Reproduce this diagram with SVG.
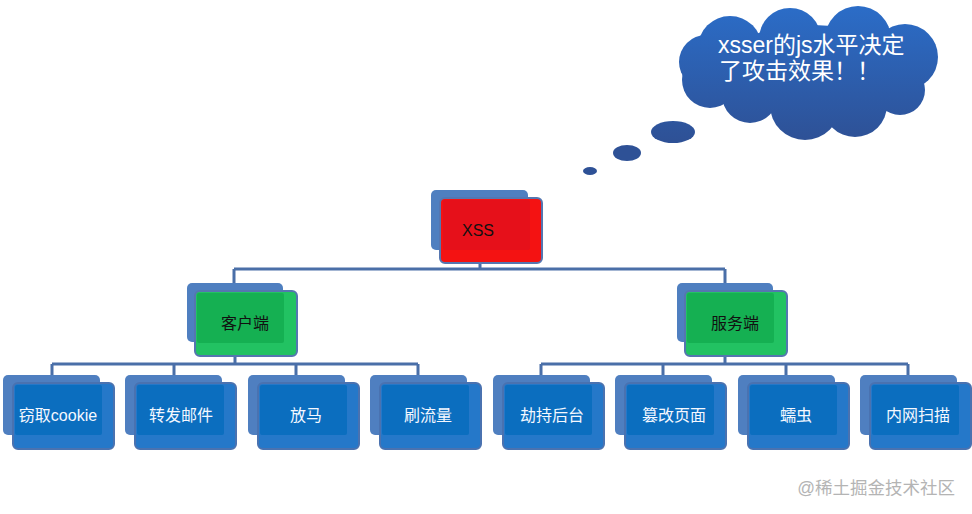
<svg xmlns="http://www.w3.org/2000/svg" width="972" height="514" viewBox="0 0 972 514">
<defs>
<linearGradient id="cloudg" gradientUnits="userSpaceOnUse" x1="0" y1="5" x2="0" y2="140">
<stop offset="0" stop-color="#2b6dc8"/>
<stop offset="1" stop-color="#2e5196"/>
</linearGradient>
<style>
.back{fill:#4f7fc0;}
.frontR{fill:#f41212;stroke:#5576b0;stroke-width:2;}
.innerR{fill:#e6101a;}
.frontG{fill:#22c262;stroke:#5576b0;stroke-width:2;}
.innerG{fill:#15b052;}
.frontB{fill:#2578c9;stroke:#4a72b0;stroke-width:2;}
.innerB{fill:#0b6ebf;}
.lbl{font-family:"Liberation Sans","Noto Sans CJK SC",sans-serif;font-size:16px;text-anchor:middle;}
.dark{fill:#111;}
.light{fill:#f4f8ff;}
.conn{fill:none;stroke:#4a6fa8;stroke-width:3;}
.cloud{fill:url(#cloudg);}
</style>
</defs>
<rect width="972" height="514" fill="#ffffff"/>

<g id="connectors">
<path class="conn" d="M480 262V269M234 269H725M234 269V284M725 269V284"/>
<path class="conn" d="M235 355V364M52 364H418M52 364V376M174 364V376M296 364V376M418 364V376"/>
<path class="conn" d="M725 355V364M541 364H908M541 364V376M663 364V376M786 364V376M908 364V376"/>
</g>

<g id="thought">
<ellipse class="cloud" cx="590" cy="171" rx="7" ry="4"/>
<ellipse class="cloud" cx="627" cy="153" rx="14" ry="8"/>
<ellipse class="cloud" cx="673" cy="132" rx="22" ry="11"/>
<circle class="cloud" cx="730" cy="48" r="32"/>
<circle class="cloud" cx="790" cy="39" r="31"/>
<circle class="cloud" cx="858" cy="39" r="33"/>
<circle class="cloud" cx="905" cy="57" r="33"/>
<circle class="cloud" cx="900" cy="90" r="25"/>
<circle class="cloud" cx="855" cy="105" r="32"/>
<circle class="cloud" cx="805" cy="105" r="35"/>
<circle class="cloud" cx="750" cy="95" r="28"/>
<circle class="cloud" cx="710" cy="80" r="28"/>
<circle class="cloud" cx="706" cy="62" r="27"/>
<ellipse class="cloud" cx="810" cy="70" rx="90" ry="45"/>
<text font-family="Liberation Sans,'Noto Sans CJK SC',sans-serif" font-size="23" fill="#ffffff" x="718" y="53">xsser的js水平决定</text>
<text font-family="Liberation Sans,'Noto Sans CJK SC',sans-serif" font-size="23" fill="#ffffff" x="719" y="79">了攻击效果！！</text>
</g>

<g id="node-xss">
<rect class="back" x="431" y="190" width="97" height="60" rx="5"/>
<rect class="frontR" x="440" y="198" width="102" height="65" rx="5"/>
<rect class="innerR" x="443" y="200" width="87" height="50" rx="2"/>
<text class="lbl dark" x="478" y="236" font-size="15">XSS</text>
</g>

<g id="node-client">
<rect class="back" x="187" y="283" width="96" height="59" rx="5"/>
<rect class="frontG" x="195" y="291" width="102" height="65" rx="5"/>
<rect class="innerG" x="197" y="293" width="87" height="50" rx="2"/>
<text class="lbl dark" x="245" y="329">客户端</text>
</g>

<g id="node-server">
<rect class="back" x="677" y="283" width="96" height="59" rx="5"/>
<rect class="frontG" x="685" y="291" width="102" height="65" rx="5"/>
<rect class="innerG" x="687" y="293" width="87" height="50" rx="2"/>
<text class="lbl dark" x="735" y="329">服务端</text>
</g>

<g id="leaf-1">
<rect class="back" x="3" y="375" width="97" height="60" rx="5"/>
<rect class="frontB" x="13" y="383" width="101" height="66" rx="5"/>
<rect class="innerB" x="15" y="385" width="87" height="50" rx="2"/>
<text class="lbl light" x="58" y="421">窃取cookie</text>
</g>
<g id="leaf-2">
<rect class="back" x="125" y="375" width="97" height="60" rx="5"/>
<rect class="frontB" x="135" y="383" width="101" height="66" rx="5"/>
<rect class="innerB" x="137" y="385" width="87" height="50" rx="2"/>
<text class="lbl light" x="181" y="421">转发邮件</text>
</g>
<g id="leaf-3">
<rect class="back" x="248" y="375" width="97" height="60" rx="5"/>
<rect class="frontB" x="258" y="383" width="101" height="66" rx="5"/>
<rect class="innerB" x="260" y="385" width="87" height="50" rx="2"/>
<text class="lbl light" x="306" y="421">放马</text>
</g>
<g id="leaf-4">
<rect class="back" x="370" y="375" width="97" height="60" rx="5"/>
<rect class="frontB" x="380" y="383" width="101" height="66" rx="5"/>
<rect class="innerB" x="382" y="385" width="87" height="50" rx="2"/>
<text class="lbl light" x="428" y="421">刷流量</text>
</g>
<g id="leaf-5">
<rect class="back" x="493" y="375" width="97" height="60" rx="5"/>
<rect class="frontB" x="503" y="383" width="101" height="66" rx="5"/>
<rect class="innerB" x="505" y="385" width="87" height="50" rx="2"/>
<text class="lbl light" x="552" y="421">劫持后台</text>
</g>
<g id="leaf-6">
<rect class="back" x="615" y="375" width="97" height="60" rx="5"/>
<rect class="frontB" x="625" y="383" width="101" height="66" rx="5"/>
<rect class="innerB" x="627" y="385" width="87" height="50" rx="2"/>
<text class="lbl light" x="674" y="421">篡改页面</text>
</g>
<g id="leaf-7">
<rect class="back" x="738" y="375" width="97" height="60" rx="5"/>
<rect class="frontB" x="748" y="383" width="101" height="66" rx="5"/>
<rect class="innerB" x="750" y="385" width="87" height="50" rx="2"/>
<text class="lbl light" x="796" y="421">蠕虫</text>
</g>
<g id="leaf-8">
<rect class="back" x="860" y="375" width="97" height="60" rx="5"/>
<rect class="frontB" x="870" y="383" width="101" height="66" rx="5"/>
<rect class="innerB" x="872" y="385" width="87" height="50" rx="2"/>
<text class="lbl light" x="918" y="421">内网扫描</text>
</g>

<text font-family="Liberation Sans,'Noto Sans CJK SC',sans-serif" font-size="17.5" fill="#b4b4b4" x="955" y="494" text-anchor="end">@稀土掘金技术社区</text>
</svg>
